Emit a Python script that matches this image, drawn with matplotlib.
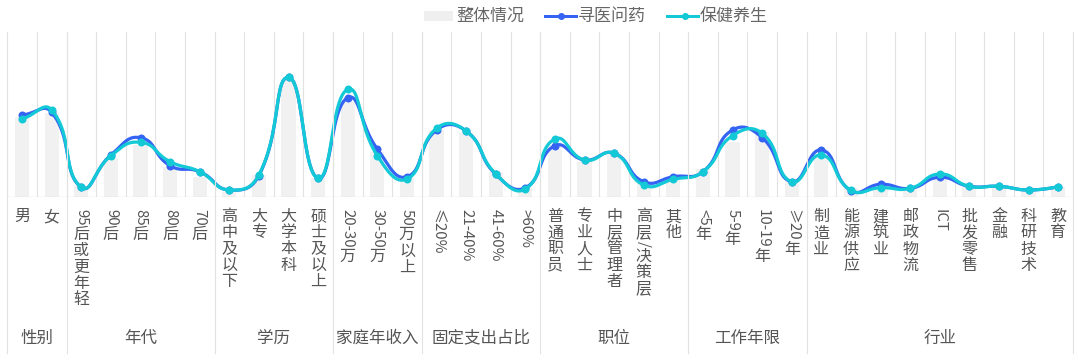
import numpy as np
import matplotlib
matplotlib.use('Agg')
import matplotlib.pyplot as plt
from matplotlib.lines import Line2D
from matplotlib.patches import Rectangle

plt.rcParams['font.family'] = ['Noto Sans CJK SC', 'DejaVu Sans']

# ---------------- data ----------------
groups = ['性别', '年代', '学历', '家庭年收入', '固定支出占比', '职位', '工作年限', '行业']
group_sizes = [2, 5, 4, 3, 4, 5, 4, 9]
categories = ['男', '女',
              '95后或更年轻', '90后', '85后', '80后', '70后',
              '高中及以下', '大专', '大学本科', '硕士及以上',
              '20-30万', '30-50万', '50万以上',
              '≤20%', '21-40%', '41-60%', '>60%',
              '普通职员', '专业人士', '中层管理者', '高层/决策层', '其他',
              '<5年', '5-9年', '10-19年', '≥20年',
              '制造业', '能源供应', '建筑业', '邮政物流', 'ICT', '批发零售', '金融', '科研技术', '教育']
overall = [80, 84, 11, 39.6, 52.3, 30, 20.6, 5, 22, 117, 19, 95, 45, 19.6,
           67, 64, 25.6, 9.6, 52, 35.6, 45.6, 14, 19.6, 28, 55.6, 65, 15.6,
           40.6, 9, 9, 9, 19, 10, 11, 7, 10]
medical = [82.3, 85, 10, 42.3, 59.6, 31.6, 25.6, 7.3, 21.8, 120, 19, 99.6, 48.3, 20.6,
           67.3, 66.3, 23, 9.6, 51.6, 37.3, 44, 15.6, 20.6, 25.6, 67.3, 59.6, 15.6,
           47.3, 6.6, 13, 9, 20, 11, 11, 7.3, 10.6]
health = [78.3, 87.3, 10, 41.6, 55, 35.6, 25.6, 7.3, 22.5, 120, 19, 108, 41.6, 18.3,
          69, 66.3, 23.5, 8.3, 58.3, 37.3, 44, 12.3, 18, 25.6, 61.6, 64, 15.6,
          42.3, 7, 9.6, 9, 23.3, 11, 11, 7.3, 10.6]
series_names = ['整体情况', '寻医问药', '保健养生']

# ---------------- layout ----------------
W, H = 1080, 360
fig = plt.figure(figsize=(W / 72, H / 72), dpi=72)
L, R, B, T = 7.3, 1073.0, 197.3, 31.7
YMAX = B - T
ax = fig.add_axes([L / W, 1 - B / H, (R - L) / W, (B - T) / H])
n = len(categories)
cell = (R - L) / n
ax.set_xlim(0, n)
ax.set_ylim(0, YMAX)
ax.axis('off')

BLUE = '#3563f3'
CYAN = '#14c9d6'
GRID = '#e2e2e2'
TXT = '#555555'

x = np.arange(n) + 0.5
ax.bar(x, overall, width=0.48, color='#f1f1f1', zorder=1)

for i in range(n + 1):
    ax.axvline(i, color=GRID, lw=1.1, zorder=0)
ax.axhline(0, color='#d9d9d9', lw=1.3, zorder=2)

# group boundaries extending below the plot
bounds = np.concatenate([[0], np.cumsum(group_sizes)])
for b in bounds:
    xp = L + b * cell
    fig.add_artist(Line2D([xp / W, xp / W], [1 - T / H, 1 - 353 / H],
                          color=GRID, lw=1.1, transform=fig.transFigure))


def echarts_smooth(xs, ys, smooth=0.5, nseg=24):
    pts = np.column_stack([np.asarray(xs) * cell, np.asarray(ys, dtype=float)])
    m = len(pts)
    before, after = [], []
    for i in range(m):
        p = pts[i]
        prev = pts[i - 1] if i > 0 else p
        if i == m - 1:
            after.append(p.copy())
            before.append(p.copy())
            continue
        nxt = pts[i + 1]
        v = nxt - prev
        d0 = np.hypot(*(p - prev))
        d1 = np.hypot(*(nxt - p))
        r = d1 / (d0 + d1) if d0 + d1 > 0 else 0.5
        after.append(p + v * smooth * r)
        before.append(p - v * smooth * (1 - r))
    out = [pts[0]]
    t = np.linspace(0, 1, nseg)[1:, None]
    for i in range(m - 1):
        P0, P1, P2, P3 = pts[i], after[i], before[i + 1], pts[i + 1]
        seg = ((1 - t) ** 3) * P0 + 3 * ((1 - t) ** 2) * t * P1 + 3 * (1 - t) * t ** 2 * P2 + t ** 3 * P3
        out.extend(seg)
    out = np.array(out)
    return out[:, 0] / cell, out[:, 1]


for vals, col, z in [(medical, BLUE, 4), (health, CYAN, 5)]:
    sx, sy = echarts_smooth(x, vals)
    ax.plot(sx, sy, color=col, lw=3.2, zorder=z, solid_capstyle='round')
    ax.plot(x, vals, 'o', color=col, ms=8, mec='none', zorder=z)

# ---------------- vertical category labels ----------------
renderer = fig.canvas.get_renderer()


def is_cjk(c):
    return ord(c) >= 0x2E80


def vertical_label(xc, s, y0=208.5, size=16, step=16.2):
    runs = []
    for c in s:
        if is_cjk(c):
            runs.append(('c', c))
        else:
            if runs and runs[-1][0] == 'a':
                runs[-1] = ('a', runs[-1][1] + c)
            else:
                runs.append(('a', c))
    cur = y0
    for kind, txt in runs:
        if kind == 'c':
            fig.text(xc / W, 1 - (cur + step / 2) / H, txt, ha='center', va='center',
                     fontsize=size, color=TXT)
            cur += step
        else:
            t = fig.text(0, 0, txt, rotation=-90, ha='center', va='center',
                         fontsize=size - 1, color=TXT)
            bb = t.get_window_extent(renderer)
            ln = bb.height
            t.set_position((xc / W, 1 - (cur + ln / 2 + 0.5) / H))
            cur += ln + 1.5


for i, lab in enumerate(categories):
    vertical_label(L + (i + 0.5) * cell, lab)

for gi, g in enumerate(groups):
    xc = L + (bounds[gi] + bounds[gi + 1]) / 2 * cell
    fig.text(xc / W, 1 - 338 / H, g, ha='center', va='center', fontsize=16.5, color=TXT)

# ---------------- legend ----------------
ly = 15.5
fig.add_artist(Rectangle((424 / W, 1 - 20 / H), 28 / W, 8.5 / H, color='#efefef',
                         transform=fig.transFigure))
fig.text(456 / W, 1 - ly / H, series_names[0], ha='left', va='center', fontsize=17, color='#666666')
for (x0, x1, xm, col, name, xt) in [(545, 576, 560.5, BLUE, series_names[1], 578),
                                     (667, 698, 684.5, CYAN, series_names[2], 700)]:
    fig.add_artist(Line2D([x0 / W, x1 / W], [1 - ly / H, 1 - ly / H], color=col, lw=3,
                          transform=fig.transFigure))
    fig.add_artist(Line2D([xm / W], [1 - ly / H], marker='o', ms=7, color=col, mec='none',
                          transform=fig.transFigure))
    fig.text(xt / W, 1 - ly / H, name, ha='left', va='center', fontsize=17, color='#666666')

fig.savefig('out.png', dpi=72, facecolor='white')
